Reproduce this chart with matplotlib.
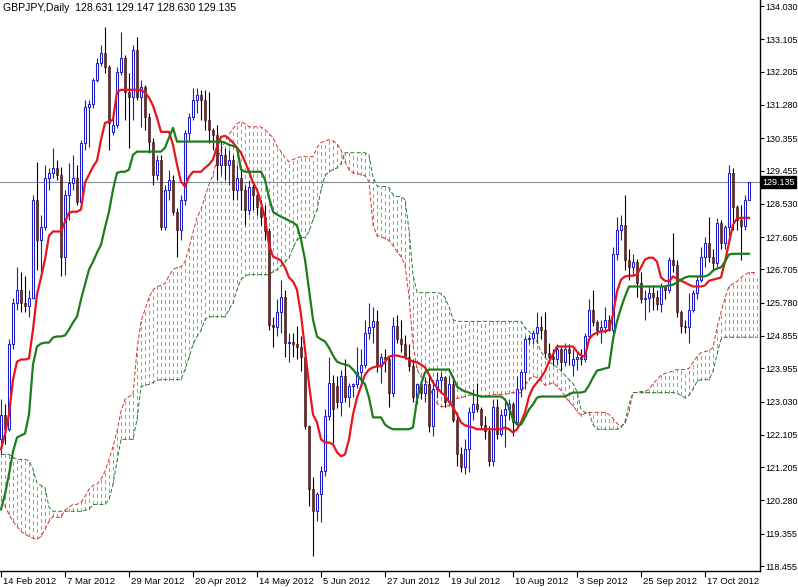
import numpy as np
import matplotlib
matplotlib.use("Agg")
import matplotlib.pyplot as plt
from matplotlib.transforms import blended_transform_factory, ScaledTranslation

plt.rcParams['font.family'] = ['Liberation Sans', 'DejaVu Sans']
plt.rcParams['lines.scale_dashes'] = False

# ---- GBPJPY daily candles (one bar per trading day, 14 Feb 2012 .. 1 Nov 2012) ----
opens = [121.98, 122.67, 122.26, 124.62, 125.78, 126.14, 125.78, 125.70, 125.92, 128.64,
         127.53, 127.89, 129.26, 129.39, 129.53, 129.34, 127.06, 128.78, 129.12, 129.26,
         128.59, 130.23, 131.23, 131.31, 131.98, 132.45, 132.73, 132.34, 130.53, 130.73,
         132.20, 132.59, 131.64, 131.51, 132.81, 131.51, 131.78, 130.95, 130.26, 129.34,
         129.76, 127.89, 128.92, 129.20, 128.31, 127.81, 128.64, 130.51, 130.95, 131.42,
         131.56, 131.42, 130.87, 130.59, 130.45, 129.62, 129.89, 129.62, 129.76, 128.92,
         129.26, 128.92, 128.37, 129.01, 128.78, 128.45, 128.17, 127.76, 125.17, 125.09,
         125.53, 125.95, 124.67, 124.70, 124.62, 124.56, 124.28, 122.34, 120.59, 119.98,
         120.45, 121.09, 122.62, 123.56, 123.45, 123.01, 123.73, 123.17, 123.45, 123.51,
         123.84, 124.06, 124.95, 125.09, 125.26, 124.01, 124.28, 124.20, 123.28, 125.12,
         124.76, 124.62, 124.28, 124.01, 123.17, 123.51, 123.28, 123.51, 122.34, 123.37,
         123.64, 123.70, 123.01, 123.51, 122.53, 121.56, 121.20, 121.70, 122.73, 122.95,
         122.81, 122.39, 122.20, 121.37, 122.89, 122.12, 122.67, 122.81, 122.95, 122.45,
         123.37, 123.84, 124.76, 124.81, 124.95, 125.09, 125.03, 124.39, 124.28, 124.20,
         124.48, 124.12, 124.48, 124.06, 124.20, 124.28, 124.20, 124.84, 125.59, 125.23,
         125.03, 125.09, 125.31, 125.03, 127.12, 127.81, 127.95, 126.98, 126.78, 126.92,
         126.34, 125.87, 125.92, 126.06, 125.95, 125.73, 126.23, 126.14, 126.98, 126.84,
         125.51, 125.12, 125.09, 125.59, 126.06, 126.42, 127.06, 127.45, 127.06, 126.89,
         128.00, 127.45, 127.89, 129.39, 128.45, 128.09, 127.90, 128.631]
highs = [123.09, 122.95, 124.76, 125.92, 126.78, 126.62, 126.51, 126.14, 128.78, 129.70,
         128.23, 129.62, 129.53, 130.09, 129.76, 129.56, 128.92, 129.67, 129.89, 129.62,
         130.31, 131.42, 131.42, 132.03, 132.59, 132.95, 133.45, 132.39, 130.92, 132.34,
         133.31, 132.67, 132.17, 132.95, 133.17, 131.98, 131.84, 131.06, 130.37, 129.89,
         129.90, 129.06, 129.48, 129.34, 128.42, 128.78, 130.59, 131.06, 131.76, 131.76,
         131.70, 131.70, 131.64, 130.64, 130.73, 130.31, 130.09, 130.03, 129.89, 129.62,
         129.48, 129.06, 129.20, 129.14, 128.92, 128.64, 128.51, 127.87, 125.37, 125.87,
         126.42, 126.14, 124.95, 124.95, 125.12, 124.84, 124.34, 122.39, 120.92, 120.51,
         121.23, 122.81, 124.28, 123.78, 123.73, 123.92, 124.20, 123.56, 123.56, 124.56,
         124.48, 125.31, 125.78, 125.67, 125.59, 124.39, 124.48, 124.28, 125.39, 125.45,
         125.31, 124.89, 124.62, 124.20, 123.56, 123.64, 123.70, 123.73, 123.64, 123.84,
         123.84, 123.73, 123.73, 123.73, 122.73, 121.78, 121.98, 122.89, 123.37, 123.56,
         122.89, 122.62, 122.34, 123.09, 123.09, 122.81, 123.01, 123.09, 123.01, 123.73,
         123.92, 124.84, 124.89, 125.03, 125.51, 125.42, 125.51, 124.67, 124.48, 124.62,
         124.56, 124.67, 124.62, 124.48, 124.39, 124.48, 124.95, 125.87, 126.14, 125.31,
         125.31, 125.67, 125.45, 127.34, 128.17, 128.23, 128.78, 127.26, 127.12, 127.00,
         126.62, 126.14, 126.23, 126.28, 126.14, 126.34, 126.28, 127.06, 127.73, 126.98,
         125.59, 125.31, 126.06, 126.14, 126.51, 127.34, 127.62, 128.17, 127.26, 128.14,
         128.09, 127.95, 129.62, 129.53, 128.51, 128.50, 128.78, 129.147]
lows = [121.56, 121.84, 122.20, 124.48, 125.59, 125.51, 125.53, 125.37, 125.87, 126.70,
        126.64, 127.81, 128.92, 129.26, 129.20, 126.51, 126.56, 128.09, 128.92, 128.51,
        128.51, 130.03, 130.12, 131.20, 131.92, 132.37, 132.17, 130.03, 130.45, 130.64,
        132.12, 130.87, 130.09, 130.87, 131.42, 130.67, 130.59, 129.95, 129.06, 129.20,
        127.81, 127.81, 128.64, 128.23, 127.06, 127.53, 128.51, 130.31, 130.87, 131.06,
        130.87, 130.59, 130.23, 130.03, 129.20, 129.34, 129.20, 129.06, 128.64, 128.64,
        128.37, 127.95, 128.23, 128.37, 128.23, 127.95, 127.53, 125.03, 124.56, 124.84,
        124.95, 124.28, 124.12, 124.28, 124.20, 123.87, 122.26, 120.12, 118.73, 119.70,
        119.67, 120.95, 122.53, 121.89, 122.85, 122.62, 123.01, 122.89, 123.17, 123.40,
        123.56, 123.95, 124.76, 124.67, 123.84, 123.56, 123.84, 122.89, 123.17, 124.67,
        124.42, 124.20, 123.87, 123.01, 122.95, 123.09, 123.01, 122.17, 122.06, 123.14,
        123.28, 122.89, 122.95, 122.45, 121.23, 121.06, 121.01, 121.06, 122.53, 122.73,
        122.26, 121.98, 121.23, 121.23, 121.98, 122.06, 121.78, 122.53, 122.06, 122.34,
        123.17, 123.37, 124.62, 124.62, 124.67, 124.76, 124.28, 124.20, 124.06, 124.06,
        123.92, 124.01, 124.06, 123.73, 123.92, 124.06, 124.12, 124.76, 125.12, 124.89,
        124.67, 124.95, 124.98, 124.95, 126.98, 127.53, 126.70, 126.42, 126.56, 125.95,
        125.78, 125.31, 125.51, 125.59, 125.59, 125.51, 125.87, 126.05, 126.62, 125.39,
        124.95, 124.95, 124.67, 125.51, 125.87, 126.36, 126.78, 126.92, 126.70, 126.78,
        127.26, 127.26, 127.48, 127.81, 127.81, 126.98, 127.81, 128.630]
closes = [122.67, 122.26, 124.62, 125.78, 126.14, 125.78, 125.70, 125.92, 128.64, 127.53,
          127.89, 129.26, 129.39, 129.53, 129.34, 127.06, 128.78, 129.12, 129.26, 128.59,
          130.23, 131.23, 131.31, 131.98, 132.45, 132.73, 132.34, 130.78, 130.73, 132.20,
          132.59, 131.64, 131.51, 132.81, 131.51, 131.78, 130.95, 130.26, 129.34, 129.76,
          127.89, 128.92, 129.20, 128.31, 127.81, 128.64, 130.51, 130.95, 131.42, 131.56,
          131.42, 130.87, 130.59, 130.45, 129.62, 129.89, 129.62, 129.76, 128.92, 129.26,
          128.92, 128.37, 129.01, 128.78, 128.45, 128.17, 127.76, 125.17, 125.09, 125.53,
          125.95, 124.67, 124.70, 124.62, 124.56, 124.28, 122.34, 120.59, 119.98, 120.45,
          121.09, 122.62, 123.56, 122.81, 123.01, 123.73, 123.17, 123.45, 123.51, 123.84,
          124.06, 124.95, 125.09, 125.26, 124.01, 124.28, 124.20, 123.28, 125.12, 124.76,
          124.62, 124.28, 124.01, 123.17, 123.51, 123.28, 123.51, 122.34, 123.37, 123.64,
          123.70, 123.01, 123.51, 122.53, 121.56, 121.20, 121.70, 122.73, 122.95, 122.81,
          122.39, 122.20, 121.37, 122.89, 122.12, 122.67, 122.81, 122.95, 122.45, 123.37,
          123.84, 124.76, 124.81, 124.95, 125.09, 125.03, 124.39, 124.28, 124.20, 124.48,
          124.12, 124.48, 124.39, 124.20, 124.28, 124.20, 124.84, 125.59, 125.23, 125.03,
          125.09, 125.31, 125.03, 127.12, 127.81, 127.95, 126.98, 126.78, 126.92, 126.34,
          125.87, 125.92, 126.06, 125.95, 125.73, 126.23, 126.14, 126.98, 126.84, 125.51,
          125.12, 125.09, 125.59, 126.06, 126.42, 127.06, 127.45, 127.06, 126.89, 128.00,
          127.45, 127.89, 129.39, 128.45, 128.09, 127.90, 128.63, 129.135]

# ---- Ichimoku lines ----
tenkan = [121.70, 122.12, 122.67, 123.64, 124.14, 124.20, 124.20, 124.23, 125.03, 126.01,
          126.48, 126.98, 127.64, 127.76, 127.76, 127.76, 128.03, 128.28, 128.31, 128.31,
          128.37, 129.12, 129.34, 129.56, 129.73, 130.31, 130.78, 130.81, 130.87, 131.64,
          131.70, 131.70, 131.70, 131.70, 131.70, 131.70, 131.62, 131.48, 131.26, 130.92,
          130.53, 130.53, 130.53, 130.17, 129.62, 129.14, 129.01, 129.28, 129.42, 129.42,
          129.42, 129.53, 129.62, 129.76, 130.12, 130.39, 130.42, 130.34, 130.23, 130.09,
          129.95, 129.70, 129.42, 129.12, 128.92, 128.56, 128.14, 127.39, 127.06, 127.01,
          126.95, 126.76, 126.48, 126.37, 126.14, 125.45, 124.48, 123.51, 122.67, 122.45,
          121.98, 121.89, 121.89, 121.84, 121.62, 121.51, 121.56, 121.98, 122.67, 123.14,
          123.45, 123.78, 123.92, 123.98, 124.01, 124.01, 124.14, 124.28, 124.31, 124.31,
          124.28, 124.26, 124.20, 124.14, 124.12, 124.06, 123.98, 123.78, 123.56, 123.42,
          123.28, 123.20, 123.03, 122.87, 122.67, 122.45, 122.37, 122.34, 122.31, 122.26,
          122.26, 122.26, 122.26, 122.26, 122.26, 122.26, 122.31, 122.26, 122.17, 122.26,
          122.45, 122.73, 123.17, 123.42, 123.56, 123.70, 123.87, 124.14, 124.34, 124.56,
          124.56, 124.56, 124.56, 124.56, 124.42, 124.31, 124.28, 124.76, 124.89, 124.95,
          124.98, 124.98, 125.03, 125.45, 126.09, 126.42, 126.51, 126.53, 126.53, 126.56,
          126.76, 126.98, 127.03, 127.03, 126.92, 126.48, 126.39, 126.37, 126.51, 126.45,
          126.39, 126.34, 126.28, 126.23, 126.23, 126.23, 126.26, 126.39, 126.42, 126.45,
          126.48, 126.92, 127.45, 127.95, 128.12, 128.14, 128.14, 128.14]
kijun = [120.03, 120.45, 121.01, 121.64, 122.03, 122.09, 122.14, 122.67, 124.06, 124.56,
         124.64, 124.67, 124.67, 124.81, 124.84, 124.84, 124.87, 125.03, 125.23, 125.39,
         125.87, 126.28, 126.70, 126.92, 127.17, 127.39, 127.87, 128.31, 128.92, 129.39,
         129.42, 129.42, 129.48, 129.89, 129.98, 129.98, 129.98, 129.98, 129.98, 129.98,
         129.98, 130.09, 130.37, 130.64, 130.26, 130.26, 130.26, 130.26, 130.26, 130.26,
         130.26, 130.26, 130.26, 130.26, 130.26, 130.26, 130.23, 130.17, 130.14, 130.09,
         129.48, 129.42, 129.42, 129.42, 129.42, 129.42, 129.20, 128.70, 128.31, 128.23,
         128.17, 128.12, 128.06, 128.01, 127.92, 127.53, 126.98, 126.14, 125.31, 124.84,
         124.76, 124.70, 124.53, 124.31, 124.14, 124.09, 124.06, 124.03, 123.92, 123.78,
         123.64, 123.51, 123.14, 122.59, 122.59, 122.59, 122.39, 122.31, 122.26, 122.26,
         122.26, 122.26, 122.26, 122.31, 123.09, 123.51, 123.84, 123.92, 123.92, 123.92,
         123.92, 123.92, 123.92, 123.70, 123.45, 123.37, 123.31, 123.28, 123.23, 123.20,
         123.17, 123.17, 123.17, 123.17, 123.17, 123.17, 123.09, 122.87, 122.53, 122.39,
         122.39, 122.59, 122.81, 122.95, 123.14, 123.17, 123.17, 123.17, 123.17, 123.17,
         123.17, 123.17, 123.23, 123.28, 123.28, 123.28, 123.31, 123.48, 123.70, 123.89,
         123.92, 123.95, 123.98, 124.76, 125.26, 125.64, 125.95, 126.23, 126.23, 126.23,
         126.23, 126.23, 126.23, 126.23, 126.23, 126.23, 126.23, 126.26, 126.28, 126.34,
         126.42, 126.48, 126.51, 126.51, 126.51, 126.51, 126.51, 126.56, 126.67, 126.73,
         126.76, 126.92, 127.12, 127.14, 127.14, 127.14, 127.14, 127.14]
span_a = [120.31, 120.12, 119.89, 119.70, 119.56, 119.42, 119.34, 119.28, 119.23, 119.20,
          119.28, 119.48, 119.70, 119.84, 119.81, 119.81, 120.01, 120.09, 120.17, 120.17,
          120.23, 120.39, 120.59, 120.70, 120.73, 120.87, 121.09, 121.42, 121.78, 122.20,
          122.76, 123.09, 123.17, 123.23, 124.48, 125.26, 125.59, 125.92, 126.14, 126.23,
          126.26, 126.31, 126.53, 126.70, 126.76, 126.78, 126.92, 127.31, 127.73, 128.14,
          128.37, 128.73, 129.06, 129.34, 129.76, 130.03, 130.26, 130.45, 130.62, 130.76,
          130.81, 130.76, 130.67, 130.67, 130.67, 130.67, 130.59, 130.48, 130.37, 130.14,
          129.98, 129.81, 129.70, 129.76, 129.81, 129.84, 129.84, 129.84, 129.84, 130.09,
          130.23, 130.28, 130.31, 130.28, 130.20, 130.03, 129.70, 129.48, 129.39, 129.37,
          129.34, 129.31, 129.14, 127.95, 127.64, 127.62, 127.56, 127.51, 127.37, 127.20,
          127.06, 126.84, 125.95, 124.62, 123.92, 123.73, 123.62, 123.51, 123.17, 122.98,
          122.89, 122.89, 122.92, 123.06, 123.12, 123.14, 123.17, 123.20, 123.23, 123.20,
          123.17, 123.17, 123.20, 123.23, 123.23, 123.23, 123.23, 123.26, 123.28, 123.26,
          123.28, 123.48, 123.64, 123.73, 123.70, 123.62, 123.48, 123.51, 123.56, 123.45,
          123.34, 123.17, 123.03, 122.92, 122.76, 122.64, 122.70, 122.73, 122.73, 122.73,
          122.73, 122.73, 122.67, 122.56, 122.42, 122.34, 122.42, 122.76, 123.28, 123.28,
          123.31, 123.31, 123.37, 123.53, 123.64, 123.76, 123.81, 123.84, 123.89, 123.92,
          123.92, 123.92, 123.95, 124.12, 124.28, 124.39, 124.42, 124.45, 124.53, 125.09,
          125.51, 125.92, 126.23, 126.31, 126.37, 126.48, 126.56, 126.62, 126.62, 126.59]
span_b = [121.56, 121.56, 121.56, 121.48, 121.42, 121.42, 121.42, 121.39, 121.14, 120.76,
          120.70, 120.64, 120.09, 119.98, 119.98, 119.98, 119.98, 119.98, 119.98, 119.98,
          119.98, 120.01, 120.03, 120.17, 120.17, 120.17, 120.17, 120.31, 120.73, 121.37,
          121.98, 121.98, 121.98, 121.98, 122.53, 123.45, 123.48, 123.51, 123.56, 123.62,
          123.64, 123.64, 123.64, 123.64, 123.64, 123.64, 123.92, 124.26, 124.62, 124.84,
          125.01, 125.31, 125.39, 125.39, 125.39, 125.39, 125.39, 125.59, 125.78, 126.14,
          126.42, 126.53, 126.56, 126.56, 126.56, 126.56, 126.56, 126.56, 126.64, 126.70,
          126.81, 126.92, 127.03, 127.31, 127.53, 127.59, 127.59, 127.76, 128.09, 128.37,
          128.92, 129.31, 129.42, 129.48, 129.53, 129.64, 129.95, 129.95, 129.95, 129.95,
          129.95, 129.95, 129.89, 129.26, 129.03, 129.01, 129.01, 128.98, 128.78, 128.73,
          128.73, 128.64, 127.81, 126.56, 126.06, 126.06, 126.06, 126.06, 126.06, 126.06,
          126.03, 125.92, 125.67, 125.31, 125.26, 125.26, 125.26, 125.26, 125.26, 125.26,
          125.26, 125.26, 125.26, 125.26, 125.26, 125.26, 125.26, 125.26, 125.26, 125.26,
          125.26, 125.09, 124.98, 124.87, 124.70, 124.42, 124.26, 124.14, 124.06, 123.98,
          123.89, 123.76, 123.64, 123.53, 123.31, 122.81, 122.73, 122.73, 122.39, 122.26,
          122.26, 122.26, 122.26, 122.26, 122.26, 122.31, 122.48, 122.95, 123.28, 123.28,
          123.28, 123.28, 123.28, 123.28, 123.28, 123.28, 123.28, 123.28, 123.28, 123.26,
          123.20, 123.14, 123.20, 123.37, 123.59, 123.64, 123.64, 123.64, 123.87, 124.34,
          124.76, 124.82, 124.82, 124.82, 124.82, 124.82, 124.82, 124.82, 124.82, 124.82]

date_labels = ["14 Feb 2012", "7 Mar 2012", "29 Mar 2012", "20 Apr 2012", "14 May 2012",
               "5 Jun 2012", "27 Jun 2012", "19 Jul 2012", "10 Aug 2012", "3 Sep 2012",
               "25 Sep 2012", "17 Oct 2012"]
date_bars = [0, 16, 32, 48, 64, 80, 96, 112, 128, 144, 160, 176]
price_ticks = [134.030, 133.105, 132.205, 131.280, 130.355, 129.455, 128.530, 127.605,
               126.705, 125.780, 124.855, 123.955, 123.030, 122.105, 121.205, 120.280,
               119.355, 118.455]
last_price = 129.135
header = "GBPJPY,Daily  128.631 129.147 128.630 129.135"

# ---- figure ----
fig = plt.figure(figsize=(7.98, 5.87), dpi=100)
ax = fig.add_axes([0, 16 / 587, 760 / 798, 571 / 587])
ax.set_xlim(-0.25, 189.75)
ax.set_ylim(118.318, 134.197)

# cloud hatching + senkou lines
sa = np.array(span_a)
sb = np.array(span_b)
cx = np.arange(len(sa))
green = sa >= sb
ax.vlines(cx[green], sb[green], sa[green], colors="#6cc282", lw=0.72,
          linestyles=(0, (2.2, 2.2)), antialiaseds=False, zorder=1)
ax.vlines(cx[~green], sa[~green], sb[~green], colors="#f27a66", lw=0.72,
          linestyles=(0, (2.2, 2.2)), antialiaseds=False, zorder=1)
ax.plot(cx, sa, color="#d0342c", lw=0.7, ls=(0, (3, 1.5)), zorder=2)
ax.plot(cx, sb, color="#2a7a30", lw=0.7, ls=(0, (3, 1.5)), zorder=2)

# current price line
ax.axhline(last_price, color="#7f8c9a", lw=0.8, zorder=2.5)

# candles
o = np.array(opens)
h = np.array(highs)
l = np.array(lows)
c = np.array(closes)
bx = np.arange(len(c))
up = c >= o
ax.vlines(bx[up], l[up], h[up], color="#1a1acc", lw=0.8, zorder=3)
ax.vlines(bx[~up], l[~up], h[~up], color="black", lw=0.8, zorder=3)
ax.bar(bx[up], c[up] - o[up], bottom=o[up], width=0.62, facecolor="white",
       edgecolor="#1a1acc", lw=0.75, zorder=4)
ax.bar(bx[~up], o[~up] - c[~up], bottom=c[~up], width=0.7, facecolor="#8e1d1d",
       edgecolor="#2a0a0a", lw=0.4, zorder=4)

# tenkan / kijun
ax.plot(bx, tenkan, color="#e8141c", lw=1.6, zorder=5)
ax.plot(bx, kijun, color="#1b7d1b", lw=1.6, zorder=5)

# axes styling
for side in ("top", "left"):
    ax.spines[side].set_visible(False)
ax.spines["right"].set_linewidth(1.0)
ax.spines["bottom"].set_linewidth(1.0)

ax.yaxis.tick_right()
ax.set_yticks(price_ticks)
ax.set_yticklabels([f"{v:.3f}" for v in price_ticks])
ax.tick_params(axis="y", direction="out", length=3, width=0.8, pad=1, labelsize=6.5)
ax.set_xticks(date_bars)
ax.set_xticklabels(date_labels)
ax.tick_params(axis="x", direction="out", length=4, width=0.8, pad=0.5, labelsize=6.8)
shift = ScaledTranslation(2 / 100, 0, fig.dpi_scale_trans)
for lbl in ax.get_xticklabels():
    lbl.set_ha("left")
    lbl.set_transform(lbl.get_transform() + shift)

# last price tag on the price scale
tr = blended_transform_factory(ax.transAxes, ax.transData)
ax.text(1.003, last_price, f"{last_price:.3f}", transform=tr, ha="left", va="center",
        fontsize=6.5, color="white", clip_on=False, zorder=10,
        bbox=dict(boxstyle="square,pad=0.15", fc="black", ec="black"))

ax.text(0.004, 0.995, header, transform=ax.transAxes, ha="left", va="top", fontsize=7.6)

fig.savefig("out.png", dpi=100)
